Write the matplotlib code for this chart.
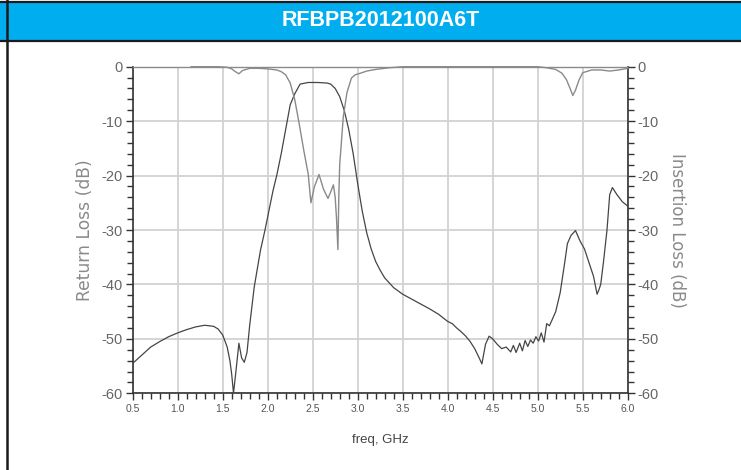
import matplotlib.pyplot as plt
from matplotlib.patches import Rectangle
from matplotlib.lines import Line2D
from matplotlib.ticker import MultipleLocator

plt.rcParams['font.family'] = ['Liberation Sans', 'DejaVu Sans']
plt.rcParams['axes.unicode_minus'] = False

title = "RFBPB2012100A6T"

# insertion loss (S21), dB
f21 = [0.5, 0.6, 0.7, 0.8, 0.9, 1.0, 1.1, 1.2, 1.3, 1.4, 1.45, 1.5, 1.55, 1.58, 1.6, 1.62,
       1.65, 1.68, 1.71, 1.74, 1.77, 1.8, 1.85, 1.92, 1.97, 2.06, 2.1, 2.15, 2.2, 2.25, 2.3,
       2.36, 2.45, 2.55, 2.66, 2.7, 2.75, 2.8, 2.85, 2.9, 2.95, 3.0, 3.05, 3.1, 3.15, 3.2,
       3.25, 3.3, 3.4, 3.5, 3.6, 3.7, 3.8, 3.9, 4.0, 4.05, 4.1, 4.15, 4.2, 4.25, 4.3, 4.35,
       4.38, 4.42, 4.46, 4.5, 4.55, 4.6, 4.65, 4.7, 4.73, 4.76, 4.8, 4.83, 4.86, 4.89, 4.92,
       4.95, 4.98, 5.01, 5.04, 5.07, 5.1, 5.13, 5.16, 5.2, 5.25, 5.3, 5.33, 5.37, 5.42, 5.47,
       5.52, 5.56, 5.62, 5.66, 5.68, 5.7, 5.73, 5.77, 5.8, 5.83, 5.88, 5.94, 6.0]
s21 = [-54.5, -53.0, -51.5, -50.5, -49.6, -48.9, -48.3, -47.8, -47.5, -47.7, -48.2, -49.3,
       -51.5, -54.0, -56.5, -60.0, -55.5, -50.8, -53.5, -54.3, -52.5, -47.5, -40.5, -33.7,
       -30.0, -22.7, -20.0, -16.0, -11.5, -7.0, -5.0, -3.2, -2.9, -2.9, -3.0, -3.2, -4.0,
       -5.5, -8.0, -11.5, -16.0, -21.5, -26.5, -30.5, -33.5, -35.8, -37.4, -38.8, -40.6,
       -41.8, -42.7, -43.6, -44.5, -45.5, -46.8, -47.2, -48.0, -48.7, -49.5, -50.5, -51.8,
       -53.5, -54.6, -51.0, -49.5, -50.0, -51.0, -51.8, -51.5, -52.4, -51.2, -52.5, -50.8,
       -52.2, -50.3, -51.4, -50.2, -50.8, -49.6, -50.4, -48.9, -50.6, -47.2, -47.6, -46.5,
       -45.0, -41.5, -36.0, -32.5, -31.0, -30.1, -32.0, -33.5, -35.5, -38.5, -41.8, -41.0,
       -40.0, -36.0, -30.0, -23.5, -22.2, -23.5, -24.8, -25.6]

# return loss (S11), dB
f11 = [1.15, 1.3, 1.45, 1.55, 1.6, 1.64, 1.68, 1.72, 1.8, 1.9, 2.0, 2.1, 2.15, 2.2, 2.25,
       2.3, 2.35, 2.4, 2.45, 2.48, 2.52, 2.57, 2.62, 2.67, 2.7, 2.73, 2.75, 2.765, 2.78,
       2.79, 2.8, 2.84, 2.88, 2.93, 2.97, 3.03, 3.1, 3.2, 3.35, 3.5, 4.0, 4.5, 5.0, 5.1, 5.2,
       5.27, 5.32, 5.36, 5.39, 5.42, 5.46, 5.5, 5.6, 5.7, 5.8, 5.9, 6.0]
s11 = [0.0, 0.0, 0.0, -0.1, -0.4, -0.9, -1.3, -0.7, -0.3, -0.3, -0.4, -0.6, -0.9, -1.5,
       -3.0, -6.0, -10.5, -15.3, -19.7, -25.0, -22.0, -19.8, -22.5, -24.2, -23.0, -21.7,
       -24.0, -28.0, -33.6, -24.0, -18.0, -9.2, -4.8, -2.1, -1.5, -1.2, -0.8, -0.5, -0.2,
       0.0, 0.0, 0.0, 0.0, -0.2, -0.5, -1.2, -2.4, -4.0, -5.3, -4.3, -2.4, -1.1, -0.6, -0.6,
       -0.8, -0.6, -0.3]

fig = plt.figure(figsize=(7.41, 4.70), dpi=100)

# header band
fig.patches.append(Rectangle((0, 1 - 41 / 470), 1, 39 / 470, transform=fig.transFigure,
                             facecolor='#00aeef', edgecolor='none', zorder=0))
for yy in [1 - 1.5 / 470, 1 - 41 / 470]:
    fig.add_artist(Line2D([0, 1], [yy, yy], transform=fig.transFigure, color='#1a1a1a', lw=1.6))
fig.add_artist(Line2D([7 / 741, 7 / 741], [0, 1], transform=fig.transFigure, color='#1a1a1a', lw=1.8))
fig.text(381 / 741, 1 - 21 / 470, title, color='white', fontsize=15.5, fontweight='bold',
         ha='center', va='center')

ax = fig.add_axes([132.7 / 741, 1 - 393.3 / 470, 495 / 741, 326.6 / 470])
ax.plot(f21, s21, color='#454545', lw=0.9, zorder=3)
ax.plot(f11, s11, color='#8a8a8a', lw=1.0, zorder=3, clip_on=False)

ax.set_xlim(0.5, 6.0)
ax.set_ylim(-60, 0)
ax.xaxis.set_major_locator(MultipleLocator(0.5))
ax.xaxis.set_minor_locator(MultipleLocator(0.1))
ax.yaxis.set_major_locator(MultipleLocator(10))
ax.yaxis.set_minor_locator(MultipleLocator(2))
ax.xaxis.set_major_formatter(plt.FuncFormatter(lambda v, p: f"{v:.1f}"))
ax.grid(True, which='major', color='#d2d2d2', lw=1.3)
ax.set_axisbelow(True)

for s in ['left', 'bottom', 'right']:
    ax.spines[s].set_color('#333333')
    ax.spines[s].set_linewidth(1.2)
ax.spines['top'].set_color('#8a8a8a')
ax.spines['top'].set_linewidth(1.0)

ax.tick_params(axis='x', which='major', length=5, width=1, color='#333333',
               labelsize=7.5, labelcolor='#555555', pad=3)
ax.tick_params(axis='x', which='minor', length=4, width=1, color='#333333')
ax.tick_params(axis='y', which='major', length=5, width=1, color='#333333',
               labelsize=10.5, labelcolor='#666666', pad=2)
ax.tick_params(axis='y', which='minor', length=4, width=1, color='#333333')

ax2 = ax.twinx()
ax2.set_ylim(-60, 0)
ax2.yaxis.set_major_locator(MultipleLocator(10))
ax2.yaxis.set_minor_locator(MultipleLocator(2))
ax2.tick_params(axis='y', which='major', length=5, width=1, color='#333333',
                labelsize=10.5, labelcolor='#666666', pad=2)
ax2.tick_params(axis='y', which='minor', length=4, width=1, color='#333333')
for s in ax2.spines.values():
    s.set_visible(False)

ax.set_xlabel("freq, GHz", fontsize=9.5, color='#444444', labelpad=14)
ax.set_ylabel("Return Loss (dB)", fontsize=12.3, color='#8a8a8a', family='DejaVu Sans')
ax.yaxis.set_label_coords(-0.078, 0.5)
ax2.set_ylabel("Insertion Loss (dB)", fontsize=12, color='#8a8a8a', rotation=-90,
               family='DejaVu Sans')
ax2.yaxis.set_label_coords(1.118, 0.5)

fig.savefig("out.png", dpi=100)
